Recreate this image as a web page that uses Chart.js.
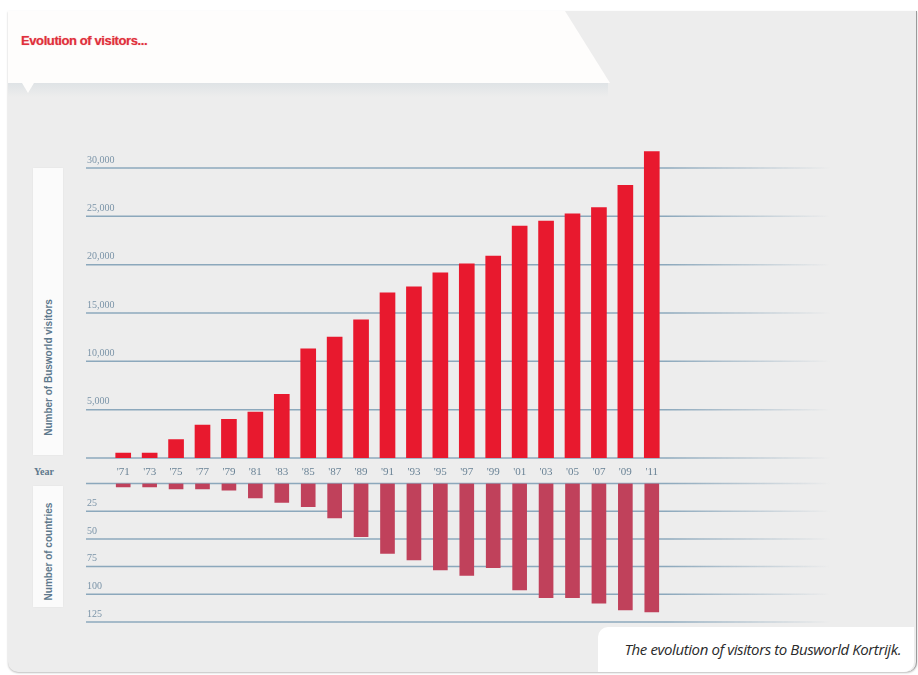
<!DOCTYPE html>
<html>
<head>
<meta charset="utf-8">
<script src="https://cdn.jsdelivr.net/npm/chart.js@4.4.1/dist/chart.umd.min.js"></script>
<style>
  html, body { margin: 0; padding: 0; background: #fff; }
  #page { position: relative; width: 918px; height: 675px; overflow: hidden; }
  #panel { position: absolute; left: 8px; top: 11px; width: 908px; height: 661px; background: #ededed;
           border-right: 1px solid #9a9a9a; border-radius: 0 0 10px 10px; box-shadow: 0 1px 2px rgba(0,0,0,0.25); }
  #banner { position: absolute; left: 8px; top: 11px; width: 602px; height: 72px; background: #fefdfc;
            clip-path: polygon(0 0, 557px 0, 602px 100%, 0 100%); }
  #bannerShade { position: absolute; left: 8px; top: 83px; width: 600px; height: 14px;
                 background: linear-gradient(#dfe3e6, rgba(237,237,237,0)); }
  #pointer { position: absolute; left: 22px; top: 83px; width: 0; height: 0;
             border-left: 6px solid transparent; border-right: 6px solid transparent; border-top: 10px solid #fefdfc; }
  #title { position: absolute; left: 21px; top: 33px; font: bold 13px "Liberation Sans", sans-serif; color: #e0303c;
           letter-spacing: -0.4px; text-shadow: 0 0 1px rgba(224,48,60,0.5); }
  .band { position: absolute; background: #fbfbfb; box-shadow: 0 0 2px rgba(0,0,0,0.05); }
  .vlabel { position: absolute; transform: rotate(-90deg); transform-origin: center; white-space: nowrap;
            font: bold 10px "Liberation Sans Narrow", "Liberation Sans", sans-serif; color: #5d788c; text-align: center; }
  #year { position: absolute; left: 34px; top: 466px; font: bold 10px "Liberation Serif", serif; color: #5d788c; }
  #caption { position: absolute; left: 598px; top: 627px; width: 316px; height: 45px; background: #fff;
             border-radius: 10px 0 10px 0; }
  #captionText { position: absolute; right: 13px; top: 12px; font: italic 15px "Open Sans", sans-serif;
                 color: #2a2a2a; letter-spacing: -0.4px; white-space: nowrap; }
  canvas { position: absolute; left: 0; }
</style>
</head>
<body>
<div id="page">
  <div id="panel"></div>
  <div id="bannerShade"></div>
  <div id="banner"></div>
  <div id="pointer"></div>
  <div id="title">Evolution of visitors...</div>
  <div class="band" style="left:33px; top:168px; width:30px; height:287px;"></div>
  <div class="band" style="left:33px; top:486px; width:30px; height:121px;"></div>
  <div class="vlabel" style="left:-30px; top:362px; width:156px;">Number of Busworld visitors</div>
  <div class="vlabel" style="left:-12px; top:546px; width:120px;">Number of countries</div>
  <div id="year">Year</div>
  <div id="caption"><div id="captionText">The evolution of visitors to Busworld Kortrijk.</div></div>
  <div style="position:absolute; left:0; top:0; width:918px; height:490px;"><canvas id="visitorsChart"></canvas></div>
  <div style="position:absolute; left:0; top:470px; width:918px; height:170px;"><canvas id="countriesChart"></canvas></div>
</div>
<script>
const years = ["'71", "'73", "'75", "'77", "'79", "'81", "'83", "'85", "'87", "'89", "'91",
               "'93", "'95", "'97", "'99", "'01", "'03", "'05", "'07", "'09", "'11"];
const visitors = [500, 500, 1900, 3400, 4000, 4750, 6600, 11300, 12500, 14300, 17100,
                  17700, 19150, 20100, 20900, 24000, 24500, 25250, 25900, 28200, 31700];
const countries = [3, 3, 5, 5, 6, 13, 17, 21, 31, 48, 63, 69, 78, 83, 76, 96, 103, 103, 108, 114, 116];
const visitorTicks = [0, 5000, 10000, 15000, 20000, 25000, 30000];
const countryTicks = [0, 25, 50, 75, 100, 125];

const gridBlue = 'rgba(140,168,188,1)';
const labelBlue = '#7b94a8';

// horizontal lines + labels sitting on top of them, fading to the right
const fadeGrid = {
  id: 'fadeGrid',
  beforeDatasetsDraw(chart) {
    const ctx = chart.ctx;
    const y = chart.scales.y;
    const g = ctx.createLinearGradient(86, 0, 830, 0);
    g.addColorStop(0, gridBlue);
    g.addColorStop(0.78, gridBlue);
    g.addColorStop(1, 'rgba(140,168,188,0)');
    ctx.save();
    ctx.strokeStyle = g;
    ctx.lineWidth = 1.5;
    ctx.font = '10px "Liberation Serif", serif';
    ctx.fillStyle = labelBlue;
    ctx.textBaseline = 'bottom';
    y.ticks.forEach(t => {
      const py = y.getPixelForValue(t.value);
      ctx.beginPath();
      ctx.moveTo(86, py);
      ctx.lineTo(830, py);
      ctx.stroke();
      if (t.value !== 0) ctx.fillText(t.label, 87, py - 3);
    });
    ctx.restore();
  }
};

new Chart(document.getElementById('visitorsChart'), {
  type: 'bar',
  data: {
    labels: years,
    datasets: [{
      data: visitors,
      backgroundColor: '#e8192e',
      barThickness: 15
    }]
  },
  options: {
    responsive: true,
    maintainAspectRatio: false,
    animation: false,
    layout: { padding: { left: 110, right: 253, top: 148.7, bottom: 10 } },
    plugins: { legend: { display: false }, tooltip: { enabled: false } },
    scales: {
      x: {
        grid: { display: false, drawTicks: false },
        border: { display: false },
        ticks: { color: '#6a8396', font: { family: 'Liberation Serif', size: 11 }, padding: 8, maxRotation: 0 },
        afterFit(scale) { scale.height = 22; }
      },
      y: {
        display: false,
        min: 0,
        max: 32000,
        afterBuildTicks(scale) { scale.ticks = visitorTicks.map(v => ({ value: v })); },
        ticks: { callback: v => v.toLocaleString('en-US') }
      }
    }
  },
  plugins: [fadeGrid]
});

new Chart(document.getElementById('countriesChart'), {
  type: 'bar',
  data: {
    labels: years,
    datasets: [{
      data: countries,
      backgroundColor: '#c0415b',
      barThickness: 14
    }]
  },
  options: {
    responsive: true,
    maintainAspectRatio: false,
    animation: false,
    layout: { padding: { left: 110, right: 253, top: 13.5, bottom: 18 } },
    plugins: { legend: { display: false }, tooltip: { enabled: false } },
    scales: {
      x: { display: false },
      y: {
        display: false,
        reverse: true,
        min: 0,
        max: 125,
        afterBuildTicks(scale) { scale.ticks = countryTicks.map(v => ({ value: v })); }
      }
    }
  },
  plugins: [fadeGrid]
});
</script>
</body>
</html>
